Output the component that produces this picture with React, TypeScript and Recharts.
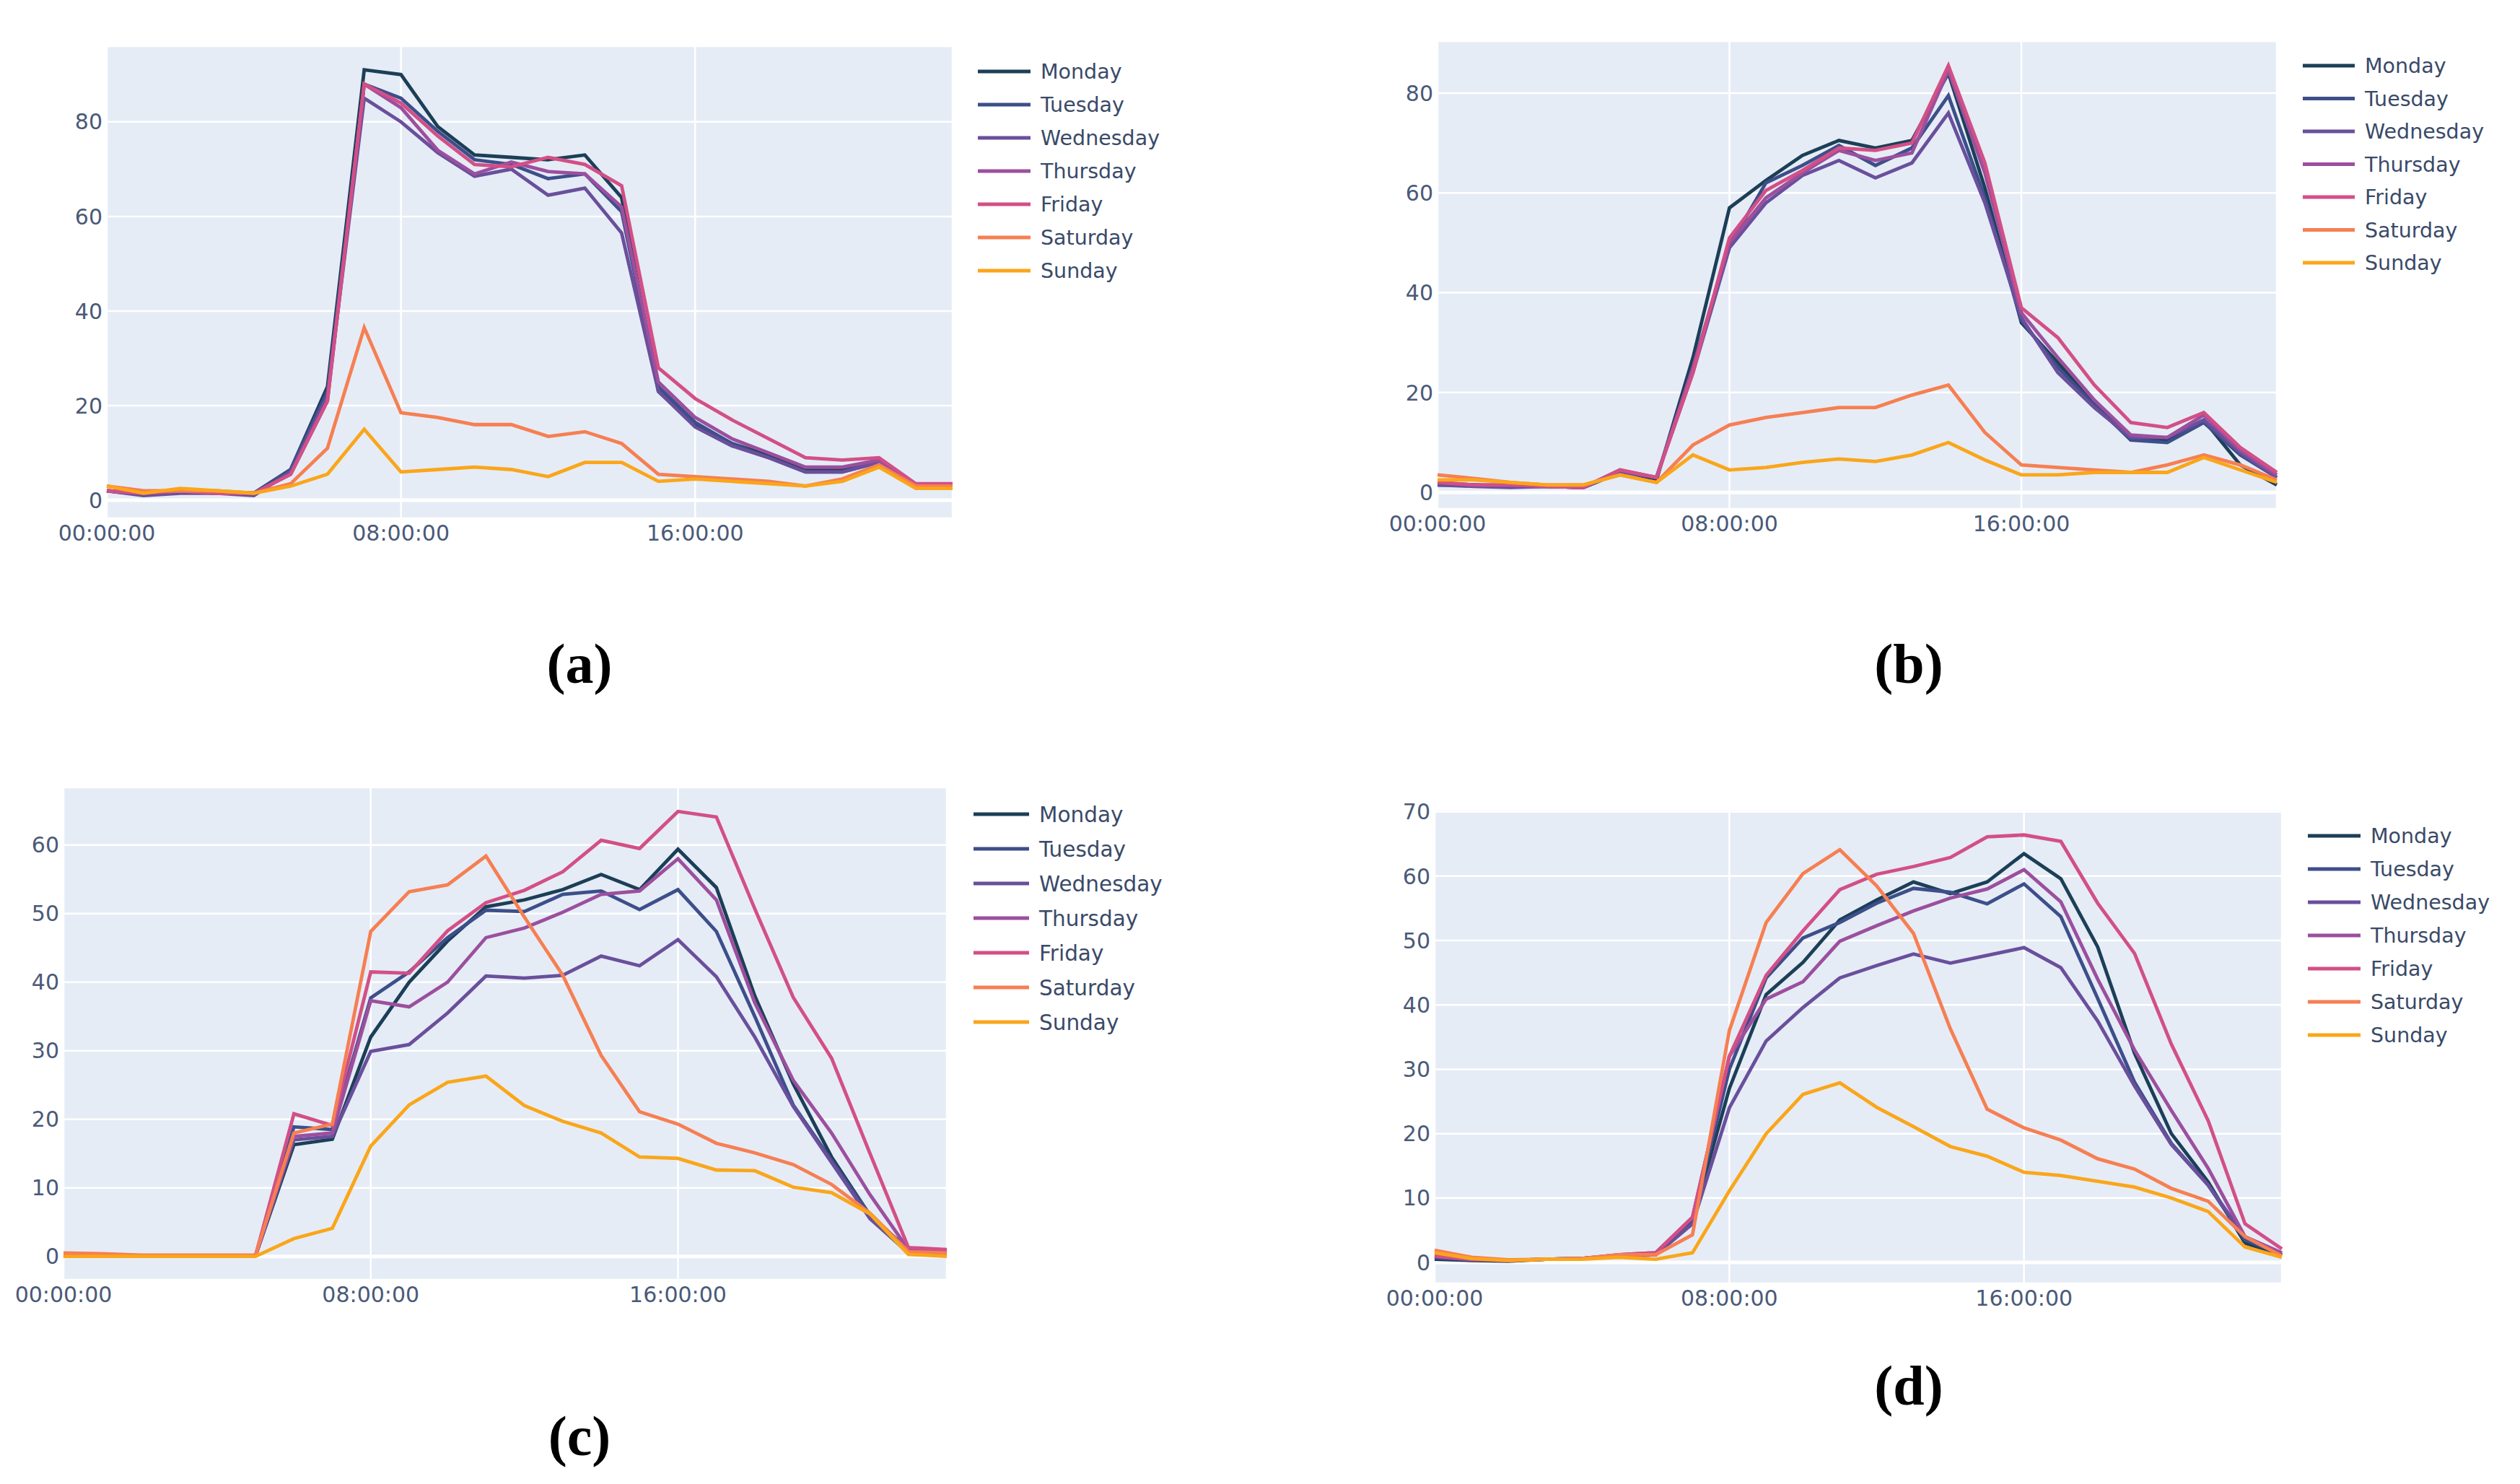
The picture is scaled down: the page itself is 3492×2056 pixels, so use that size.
import React from "react";
import { LineChart, Line, XAxis, YAxis, CartesianGrid, ReferenceLine } from "recharts";

// ---------- categories ----------
const times = [
  "00:00:00", "01:00:00", "02:00:00", "03:00:00", "04:00:00", "05:00:00",
  "06:00:00", "07:00:00", "08:00:00", "09:00:00", "10:00:00", "11:00:00",
  "12:00:00", "13:00:00", "14:00:00", "15:00:00", "16:00:00", "17:00:00",
  "18:00:00", "19:00:00", "20:00:00", "21:00:00", "22:00:00", "23:00:00",
];
const xTickHours = [0, 8, 16];
const days = ["Monday", "Tuesday", "Wednesday", "Thursday", "Friday", "Saturday", "Sunday"];
const dayColors = ["#1c3f57", "#3d4f8a", "#6a4f9c", "#9c4f9e", "#d34f86", "#f67f52", "#faa61a"];

// ---------- panel (a) ----------
const aMonday = [2, 1.2, 2, 1.5, 1.5, 6.5, 24, 91, 90, 79, 73, 72.5, 72, 73, 64, 23, 16, 12, 9.5, 6.5, 6.5, 8, 3, 3];
const aTuesday = [2, 1.5, 2, 1.5, 1.5, 6.5, 23, 88, 85, 78, 72, 71, 68, 69, 61, 24, 16.5, 12, 9, 6, 6, 8, 3, 3];
const aWednesday = [2, 1, 1.5, 1.5, 1, 6, 22, 85, 80, 73.5, 68.5, 70, 64.5, 66, 56.5, 23, 15.5, 11.5, 9, 6, 6, 8, 3, 3];
const aThursday = [2, 1.5, 2, 1.5, 1.5, 5.5, 21, 88, 83, 74, 69, 71.5, 69.5, 69, 62, 25, 17.5, 13, 10, 7, 7, 8.5, 3, 3];
const aFriday = [2, 1.5, 2, 1.5, 1.5, 5.5, 21, 88, 84, 77, 71, 70.5, 72.5, 71, 66.5, 28, 21.5, 17, 13, 9, 8.5, 9, 3.5, 3.5];
const aSaturday = [3, 2, 2, 2, 1.5, 3.5, 11, 36.5, 18.5, 17.5, 16, 16, 13.5, 14.5, 12, 5.5, 5, 4.5, 4, 3, 4.5, 7.5, 3, 3];
const aSunday = [3, 1.5, 2.5, 2, 1.5, 3, 5.5, 15, 6, 6.5, 7, 6.5, 5, 8, 8, 4, 4.5, 4, 3.5, 3, 4, 7, 2.5, 2.5];
const aTicks = [0, 20, 40, 60, 80];

// ---------- panel (b) ----------
const bMonday = [1.5, 1.5, 1.2, 1.2, 1, 4, 2.5, 27, 57, 62.5, 67.5, 70.5, 69, 70.5, 84, 61, 34, 26, 18, 10.5, 10.5, 14.5, 5.5, 1.5];
const bTuesday = [1.5, 1.5, 1.2, 1.2, 1, 4, 3, 25, 49.5, 62, 65.5, 69.5, 65.5, 69, 79.5, 59, 34.5, 25, 17.5, 10.5, 10, 14, 7.5, 3];
const bWednesday = [1.5, 1.2, 1, 1.2, 1, 4, 3, 24, 49, 58, 63.5, 66.5, 63, 66, 76, 58, 35, 24, 17, 11, 11, 14.5, 8, 3];
const bThursday = [2, 1.5, 1.5, 1.2, 1, 4.5, 3, 25, 50, 59, 64, 68.5, 66.5, 68, 84.5, 64, 36, 27, 18.5, 11.5, 11, 15.5, 8.5, 3.5];
const bFriday = [2, 1.5, 1.5, 1.2, 1, 4.5, 3, 24, 51, 60.5, 64.5, 69, 68.5, 70, 85.5, 66, 37, 31, 21.5, 14, 13, 16, 9, 4];
const bSaturday = [3.5, 2.8, 2, 1.5, 1.5, 3.5, 2, 9.5, 13.5, 15, 16, 17, 17, 19.5, 21.5, 12, 5.5, 5, 4.5, 4, 5.5, 7.5, 5.5, 2.5];
const bSunday = [2.5, 2.5, 2, 1.5, 1.5, 3.5, 2, 7.5, 4.5, 5, 6, 6.7, 6.2, 7.5, 10, 6.5, 3.5, 3.5, 4, 4, 4, 7, 4.5, 2];
const bTicks = [0, 20, 40, 60, 80];

// ---------- panel (c) ----------
const cMonday = [0.2, 0.1, 0, 0, 0, 0.1, 16.3, 17.1, 32, 40, 46, 51, 52, 53.5, 55.7, 53.5, 59.4, 53.8, 38, 25.2, 14.5, 6, 1, 0.8];
const cTuesday = [0.2, 0.1, 0, 0, 0, 0.1, 18.9, 18.5, 37.7, 41.5, 46.5, 50.5, 50.3, 52.8, 53.3, 50.6, 53.5, 47.4, 35, 22.1, 14, 6, 1, 0.5];
const cWednesday = [0.2, 0.1, 0, 0, 0, 0.1, 17, 17.5, 29.9, 30.9, 35.5, 40.9, 40.6, 41, 43.8, 42.4, 46.2, 40.8, 32, 21.9, 13.7, 5.5, 0.5, 0.3];
const cThursday = [0.2, 0.1, 0, 0, 0, 0.1, 17.5, 18, 37.3, 36.4, 40, 46.5, 47.9, 50.2, 52.8, 53.3, 58, 52, 37, 25.7, 18, 9, 1, 0.8];
const cFriday = [0.3, 0.2, 0, 0, 0, 0.1, 20.8, 19.1, 41.5, 41.3, 47.5, 51.6, 53.4, 56.1, 60.7, 59.5, 64.9, 64.1, 50.7, 37.8, 28.9, 15, 1.3, 1];
const cSaturday = [0.5, 0.4, 0.2, 0.2, 0.2, 0.2, 18, 19.3, 47.4, 53.2, 54.2, 58.4, 49.5, 41, 29.3, 21.1, 19.3, 16.5, 15.1, 13.4, 10.5, 6.3, 0.7, 0.5];
const cSunday = [0, 0, 0, 0, 0, 0, 2.6, 4.1, 16.1, 22.1, 25.4, 26.3, 22, 19.7, 18, 14.5, 14.3, 12.6, 12.5, 10.1, 9.3, 6.2, 0.3, 0];
const cTicks = [0, 10, 20, 30, 40, 50, 60];

// ---------- panel (d) ----------
const dMonday = [0.5, 0.3, 0.2, 0.5, 0.6, 1, 1.2, 6.5, 27, 41.6, 46.6, 53.2, 56.3, 59.1, 57.3, 59.1, 63.5, 59.6, 49, 32.5, 20, 12.5, 3, 1.2];
const dTuesday = [0.8, 0.4, 0.3, 0.5, 0.6, 1, 1.2, 6.5, 30, 44.2, 50.4, 52.8, 55.8, 58.1, 57.5, 55.7, 58.8, 53.7, 41, 28, 18.5, 12, 3.5, 1.2];
const dWednesday = [0.8, 0.4, 0.3, 0.5, 0.6, 1, 1.2, 6, 24, 34.4, 39.6, 44.2, 46.1, 47.9, 46.5, 47.7, 48.9, 45.8, 37.5, 27.4, 18.3, 12, 4, 1.2];
const dThursday = [1, 0.5, 0.3, 0.5, 0.6, 1.2, 1.5, 7, 32, 40.9, 43.6, 49.9, 52.3, 54.6, 56.6, 58, 61, 56, 44, 33, 23.6, 14.6, 4, 1.5];
const dFriday = [1, 0.5, 0.3, 0.5, 0.6, 1.2, 1.5, 7, 32, 44.6, 51.5, 57.9, 60.3, 61.5, 62.9, 66.1, 66.4, 65.4, 55.8, 48, 33.9, 22, 6, 2.1];
const dSaturday = [1.9, 0.8, 0.4, 0.5, 0.6, 1.2, 1.2, 4.3, 36, 52.8, 60.4, 64.1, 58.5, 51.1, 36.3, 23.8, 20.9, 19, 16.1, 14.5, 11.5, 9.5, 4, 1];
const dSunday = [1.5, 0.6, 0.3, 0.5, 0.5, 0.8, 0.5, 1.5, 11.1, 20, 26.1, 27.9, 24.1, 21.1, 18, 16.5, 14, 13.5, 12.6, 11.7, 10, 7.9, 2.4, 0.8];
const dTicks = [0, 10, 20, 30, 40, 50, 60, 70];

// ---------- layout / style ----------
const TICK_COLOR = "#4a5a78";
const PLOT_BG = "#e5ecf6";
const LINE_W = 4.8;

type Panel = {
  name: string;
  rect: { L: number; T: number; R: number; B: number };
  domain: [number, number];
  ticks: number[];
  series: number[][];
  legend: { x1: number; x2: number; tx: number; y0: number; dy: number; fs: number };
  label: { x: number; y: number };
};

const panels: Panel[] = [
  {
    name: "(a)",
    rect: { L: 148, T: 64, R: 1320, B: 718 },
    domain: [-3.8, 96],
    ticks: aTicks,
    series: [aMonday, aTuesday, aWednesday, aThursday, aFriday, aSaturday, aSunday],
    legend: { x1: 1355, x2: 1428, tx: 1442, y0: 99, dy: 46, fs: 28.5 },
    label: { x: 803, y: 920 },
  },
  {
    name: "(b)",
    rect: { L: 1992, T: 57, R: 3155, B: 705 },
    domain: [-3.3, 90.4],
    ticks: bTicks,
    series: [bMonday, bTuesday, bWednesday, bThursday, bFriday, bSaturday, bSunday],
    legend: { x1: 3191, x2: 3263, tx: 3277, y0: 91, dy: 45.5, fs: 28.5 },
    label: { x: 2645, y: 920 },
  },
  {
    name: "(c)",
    rect: { L: 88, T: 1091, R: 1312, B: 1773 },
    domain: [-3.4, 68.4],
    ticks: cTicks,
    series: [cMonday, cTuesday, cWednesday, cThursday, cFriday, cSaturday, cSunday],
    legend: { x1: 1349, x2: 1426, tx: 1440, y0: 1128, dy: 48, fs: 29.5 },
    label: { x: 803, y: 1990 },
  },
  {
    name: "(d)",
    rect: { L: 1988, T: 1122, R: 3162, B: 1778 },
    domain: [-3.25, 70.3],
    ticks: dTicks,
    series: [dMonday, dTuesday, dWednesday, dThursday, dFriday, dSaturday, dSunday],
    legend: { x1: 3198, x2: 3271, tx: 3285, y0: 1158, dy: 46, fs: 28.5 },
    label: { x: 2645, y: 1920 },
  },
];

const PAD_L = 170;
const PAD_T = 36;
const PAD_R = 10;
const PAD_B = 80;

function buildRows(series: number[][]) {
  return times.map((t, i) => {
    const row: Record<string, number | string> = { hour: i, time: t };
    days.forEach((d, k) => {
      row[d] = series[k][i];
    });
    return row;
  });
}

function PanelChart({ p }: { p: Panel }) {
  const { L, T, R, B } = p.rect;
  const w = R - L + PAD_L + PAD_R;
  const h = B - T + PAD_T + PAD_B;
  const rows = buildRows(p.series);
  const tickStyle = { fill: TICK_COLOR, fontSize: 30, fontFamily: "DejaVu Sans" };
  return (
    <div style={{ position: "absolute", left: L - PAD_L, top: T - PAD_T, width: w, height: h }}>
      <LineChart width={w} height={h} data={rows} margin={{ top: PAD_T, right: PAD_R, left: 0, bottom: 0 }} style={{ overflow: "visible" }}>
        <CartesianGrid fill={PLOT_BG} stroke="#ffffff" strokeWidth={2.5} />
        <XAxis
          dataKey="hour"
          type="number"
          domain={[0, 23]}
          ticks={xTickHours}
          tickFormatter={(v: number) => times[v]}
          height={PAD_B}
          axisLine={false}
          tickLine={false}
          tickSize={0}
          tickMargin={10}
          tick={tickStyle}
          interval={0}
        />
        <YAxis
          type="number"
          domain={p.domain}
          ticks={p.ticks}
          allowDataOverflow
          width={PAD_L}
          axisLine={false}
          tickLine={false}
          tickSize={0}
          tickMargin={6}
          tick={tickStyle}
          interval={0}
        />
        <ReferenceLine y={0} stroke="#ffffff" strokeWidth={5} />
        {days.map((d, k) => (
          <Line
            key={d}
            dataKey={d}
            type="linear"
            stroke={dayColors[k]}
            strokeWidth={LINE_W}
            dot={false}
            activeDot={false}
            isAnimationActive={false}
          />
        ))}
      </LineChart>
    </div>
  );
}

function Overlay() {
  return (
    <svg
      width={3492}
      height={2056}
      style={{ position: "absolute", left: 0, top: 0, pointerEvents: "none" }}
    >
      {panels.map((p) => (
        <g key={p.name}>
          {days.map((d, k) => {
            const y = p.legend.y0 + k * p.legend.dy;
            return (
              <g key={d}>
                <line x1={p.legend.x1} x2={p.legend.x2} y1={y} y2={y} stroke={dayColors[k]} strokeWidth={5} />
                <text
                  x={p.legend.tx}
                  y={y}
                  dy="0.36em"
                  fontFamily="DejaVu Sans"
                  fontSize={p.legend.fs}
                  fill="#3a4a68"
                >
                  {d}
                </text>
              </g>
            );
          })}
          <text
            x={p.label.x}
            y={p.label.y}
            dy="0.33em"
            textAnchor="middle"
            fontFamily="Liberation Serif"
            fontWeight="bold"
            fontSize={78}
            fill="#000000"
          >
            {p.name}
          </text>
        </g>
      ))}
    </svg>
  );
}

export default function App() {
  return (
    <div style={{ position: "absolute", left: 0, top: 0, width: 3492, height: 2056, background: "#ffffff" }}>
      {panels.map((p) => (
        <PanelChart key={p.name} p={p} />
      ))}
      <Overlay />
    </div>
  );
}
